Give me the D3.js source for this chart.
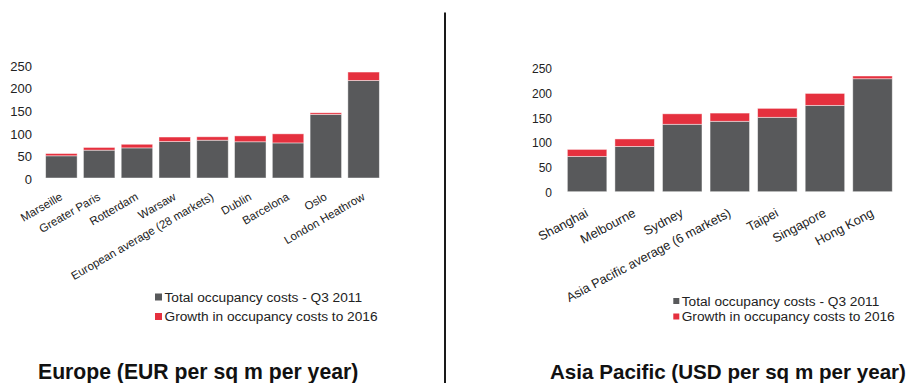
<!DOCTYPE html>
<html>
<head>
<meta charset="utf-8">
<script src="https://cdn.jsdelivr.net/npm/d3@7"></script>
<style>
  body { margin: 0; background: #fff; }
  svg { display: block; font-family: "Liberation Sans", Arial, sans-serif; }
</style>
</head>
<body>
<svg id="chart" width="918" height="383"></svg>
<script>
// Occupancy costs by market
const europeCities = ["Marseille", "Greater Paris", "Rotterdam", "Warsaw", "European average (28 markets)", "Dublin", "Barcelona", "Oslo", "London Heathrow"];
const europeTotal  = [49, 61.5, 66.5, 80.5, 83.5, 80, 77.5, 140.5, 215.5];
const europeGrowth = [5, 6, 8, 10, 7.5, 13, 20, 3.5, 18.5];

const asiaCities = ["Shanghai", "Melbourne", "Sydney", "Asia Pacific average (6 markets)", "Taipei", "Singapore", "Hong Kong"];
const asiaTotal  = [71, 91, 135.5, 141.5, 149.5, 173.5, 227];
const asiaGrowth = [14, 15, 21, 16.5, 18, 24, 5.5];

const yTicks = [0, 50, 100, 150, 200, 250];
const seriesNames = ["Total occupancy costs - Q3 2011", "Growth in occupancy costs to 2016"];
const seriesColors = ["#58595b", "#e5303e"];
const panelTitles = ["Europe (EUR per sq m per year)", "Asia Pacific (USD per sq m per year)"];

const svg = d3.select("#chart");

const panels = [
  {
    cities: europeCities, total: europeTotal, growth: europeGrowth, title: panelTitles[0],
    x0: 42.5, x1: 382.5, y0: 178, y1: 64.8, pad: 0.167,
    tickFont: 13, tickX: 32,
    labelFont: 11.5, labelAngle: -30, labelDx: 2, labelDy: 21,
    legendX: 155, legendRows: [297, 316.5], legendSq: 7, legendGap: 2.5,
    titleX: 38, titleFont: 21.2
  },
  {
    cities: asiaCities, total: asiaTotal, growth: asiaGrowth, title: panelTitles[1],
    x0: 563.3, x1: 896.3, y0: 191.7, y1: 67.3, pad: 0.17,
    tickFont: 12, tickX: 552,
    labelFont: 12.8, labelAngle: -28, labelDx: 2, labelDy: 24,
    legendX: 673.3, legendRows: [301, 316.5], legendSq: 6, legendGap: 2.4,
    titleX: 550, titleFont: 20.6
  }
];

panels.forEach(p => {
  const g = svg.append("g");
  const rows = p.cities.map((c, i) => ({ city: c, total: p.total[i], growth: p.growth[i] }));
  const stack = d3.stack().keys(["total", "growth"])(rows);

  const x = d3.scaleBand().domain(p.cities).range([p.x0, p.x1])
    .paddingInner(p.pad).paddingOuter(p.pad / 2);
  const y = d3.scaleLinear().domain([0, 250]).range([p.y0, p.y1]);

  // stacked bars
  g.selectAll("g.series").data(stack).join("g")
    .attr("class", "series")
    .attr("fill", (d, i) => seriesColors[i])
    .selectAll("rect").data(d => d).join("rect")
    .attr("x", d => x(d.data.city))
    .attr("width", x.bandwidth())
    .attr("y", d => y(d[1]))
    .attr("height", d => y(d[0]) - y(d[1]))
    .attr("stroke", "#fff")
    .attr("stroke-opacity", 0.55)
    .attr("stroke-width", 0.8);

  // value axis
  const yAxis = g.append("g")
    .attr("transform", `translate(${p.tickX},0)`)
    .call(d3.axisLeft(y).tickValues(yTicks).tickSize(0).tickPadding(0));
  yAxis.select(".domain").remove();
  yAxis.selectAll("text")
    .attr("font-size", p.tickFont)
    .attr("font-family", "Liberation Sans, Arial, sans-serif")
    .attr("fill", "#222")
    .attr("dy", "0.42em");

  // rotated category labels
  g.selectAll("text.cat").data(p.cities).join("text")
    .attr("class", "cat")
    .attr("text-anchor", "end")
    .attr("font-size", p.labelFont)
    .attr("fill", "#222")
    .attr("transform", d => `translate(${x(d) + x.bandwidth() / 2 + p.labelDx},${p.y0 + p.labelDy}) rotate(${p.labelAngle})`)
    .text(d => d);

  // legend
  const leg = g.selectAll("g.leg").data(seriesNames).join("g")
    .attr("class", "leg")
    .attr("transform", (d, i) => `translate(${p.legendX},${p.legendRows[i]})`);
  leg.append("rect")
    .attr("x", 0).attr("y", -p.legendSq / 2)
    .attr("width", p.legendSq).attr("height", p.legendSq)
    .attr("fill", (d, i) => seriesColors[i]);
  leg.append("text")
    .attr("x", p.legendSq + p.legendGap)
    .attr("dy", "0.36em")
    .attr("font-size", 13.7)
    .attr("fill", "#222")
    .text(d => d);

  // panel title
  g.append("text")
    .attr("x", p.titleX).attr("y", 379.3)
    .attr("font-size", p.titleFont)
    .attr("font-weight", "bold")
    .attr("fill", "#111")
    .text(p.title);
});

// divider between the two panels
svg.append("line")
  .attr("x1", 445).attr("x2", 445)
  .attr("y1", 12.5).attr("y2", 383)
  .attr("stroke", "#1a1a1a")
  .attr("stroke-width", 2);
</script>
</body>
</html>
